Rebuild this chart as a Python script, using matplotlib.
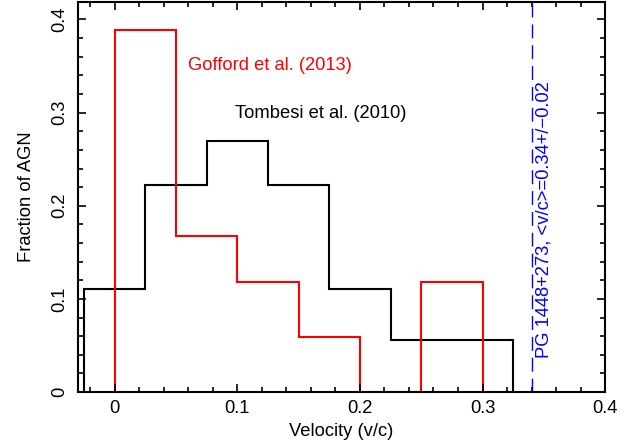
import numpy as np
import matplotlib
matplotlib.use('Agg')
import matplotlib.pyplot as plt
from matplotlib.ticker import MultipleLocator

plt.rcParams['font.family'] = ['Liberation Sans', 'DejaVu Sans']

# Tombesi et al. (2010) histogram
tomb_edges = [-0.025, 0.025, 0.075, 0.125, 0.175, 0.225, 0.275, 0.325]
tomb_frac = [0.111, 0.222, 0.270, 0.222, 0.111, 0.056, 0.056]

# Gofford et al. (2013) histogram
goff_edges = [0.0, 0.05, 0.10, 0.15, 0.20, 0.25, 0.30]
goff_frac = [0.389, 0.167, 0.118, 0.059, 0.0, 0.118]

pg_velocity = 0.34
pg_label = 'PG 1448+273, <v/c>=0.34+/\u22120.02'

fig = plt.figure(figsize=(6.41, 4.45), dpi=100)
ax = fig.add_axes([0.1217, 0.119, 0.8223, 0.877])

ax.stairs(tomb_frac, tomb_edges, color='black', lw=1.5, baseline=0)
ax.stairs(goff_frac, goff_edges, color='red', lw=1.5, baseline=0)
ax.axvline(pg_velocity, color='blue', lw=1.0, dashes=(10, 5))

ax.text(0.0597, 0.351, 'Gofford et al. (2013)', color='red', fontsize=13.2,
        ha='left', va='center')
ax.text(0.098, 0.299, 'Tombesi et al. (2010)', color='black', fontsize=13.2,
        ha='left', va='center')
ax.text(0.3505, 0.185, pg_label, color='blue', fontsize=13.2, rotation=90,
        ha='center', va='center')

ax.set_xlim(-0.03, 0.4)
ax.set_ylim(0, 0.419)
ax.xaxis.set_major_locator(MultipleLocator(0.1))
ax.xaxis.set_minor_locator(MultipleLocator(0.02))
ax.yaxis.set_major_locator(MultipleLocator(0.1))
ax.yaxis.set_minor_locator(MultipleLocator(0.02))
ax.xaxis.set_major_formatter(plt.FuncFormatter(lambda v, p: '0' if abs(v) < 1e-9 else '%g' % v))
ax.yaxis.set_major_formatter(plt.FuncFormatter(lambda v, p: '0' if abs(v) < 1e-9 else '%g' % v))
ax.tick_params(which='both', direction='in', top=True, right=True, labelsize=13.2, width=1.2)
ax.tick_params(which='major', length=6)
ax.tick_params(which='minor', length=3.5)
ax.tick_params(axis='x', which='major', pad=6)
ax.tick_params(axis='y', which='major', pad=7)
for lab in ax.get_yticklabels():
    lab.set_rotation(90)
    lab.set_va('center')
for s in ax.spines.values():
    s.set_linewidth(1.5)

ax.set_xlabel('Velocity (v/c)', fontsize=13.2, labelpad=4)
ax.set_ylabel('Fraction of AGN', fontsize=13.2, labelpad=12)

fig.savefig('out.png', dpi=100)
